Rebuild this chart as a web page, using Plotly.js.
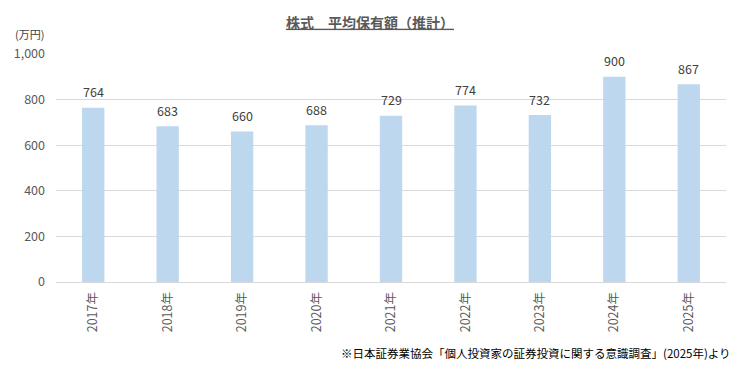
<!DOCTYPE html>
<html><head><meta charset="utf-8">
<script src="https://cdn.plot.ly/plotly-3.0.1.min.js"></script>
<style>body{margin:0;background:#fff}#c{width:740px;height:380px}</style>
</head><body><div id="c"></div>
<script>
const years = ["2017年","2018年","2019年","2020年","2021年","2022年","2023年","2024年","2025年"];
const values = [764,683,660,688,729,774,732,900,867];
const yTicks = [0,200,400,600,800,1000];
const yTickText = ["0","200","400","600","800","1,000"];
const F = '"Noto Sans CJK JP", "Noto Sans", sans-serif';
const labels = years.map((y,i)=>({x:y, y:values[i], xref:'x', yref:'y', text:String(values[i]), showarrow:false,
  yanchor:'middle', yshift:16, font:{family:F, size:12.5, color:'#404040'}}));
Plotly.newPlot('c', [{
  type:'bar', x: years, y: values,
  marker:{color:'#BDD7EE'},
  hoverinfo:'none'
}], {
  width:740, height:380,
  margin:{l:56, r:14, t:54, b:98},
  paper_bgcolor:'#fff', plot_bgcolor:'#fff',
  bargap:0.7,
  title:{text:'<b><u>株式　平均保有額（推計）</u></b>', x:0.5, xanchor:'center', y:0.94, yanchor:'middle',
    font:{family:F, size:14, color:'#595959'}},
  xaxis:{tickangle:-90, tickfont:{family:F, size:12.5, color:'#595959'}, showline:true, linecolor:'#D9D9D9', ticks:'', ticklabelstandoff:4, fixedrange:true},
  yaxis:{range:[0,1000], tickvals:yTicks, ticktext:yTickText, showgrid:true, gridcolor:'#D9D9D9', zeroline:false,
    tickfont:{family:F, size:12.5, color:'#595959'}, ticks:'', ticklen:0, ticklabelstandoff:10, automargin:false},
  showlegend:false,
  annotations:labels.concat([
    {text:'(万円)', xref:'paper', yref:'paper', x:-0.039, y:1.088, xanchor:'center', yanchor:'middle', showarrow:false,
     font:{family:F, size:11, color:'#404040'}},
    {text:'※日本証券業協会「個人投資家の証券投資に関する意識調査」(2025年)より', xref:'paper', yref:'paper', x:1.01, y:-0.31, xanchor:'right', yanchor:'middle', showarrow:false,
     font:{family:F, size:11.5, color:'#000'}}
  ])
}, {staticPlot:true});
</script></body></html>
